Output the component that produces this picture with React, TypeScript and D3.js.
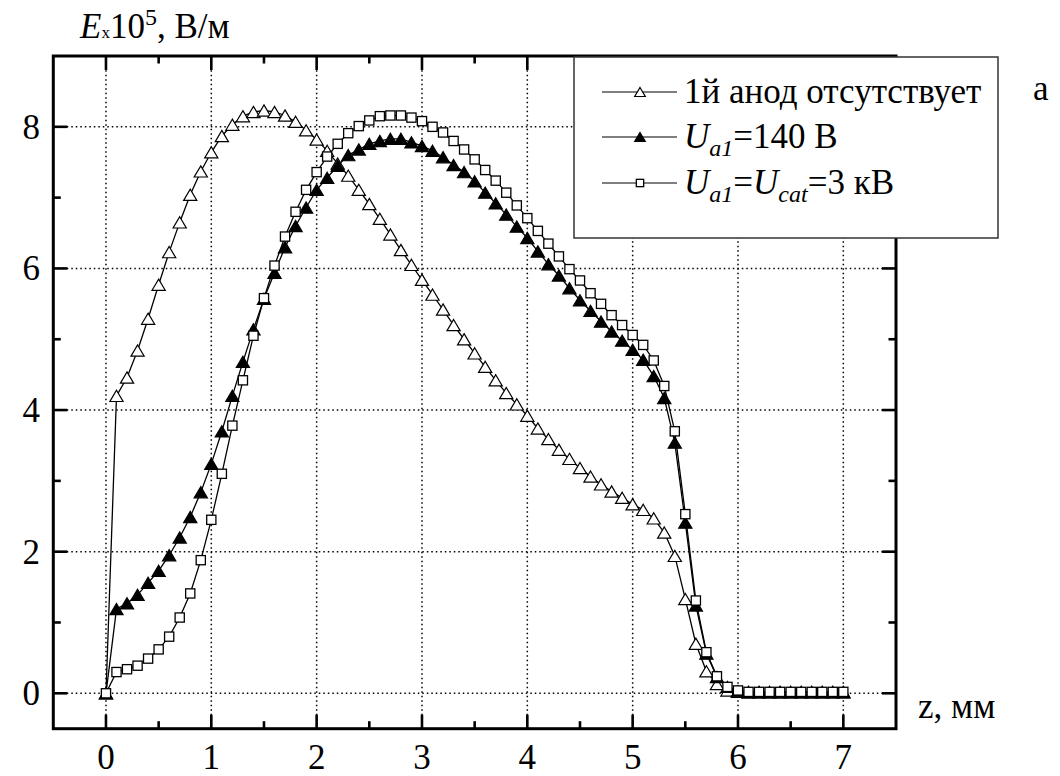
import React from 'react';
import * as d3 from 'd3';

// z, mm
const Z = [
  0, 0.1, 0.2, 0.3, 0.4, 0.5, 0.6, 0.7, 0.8, 0.9,
  1.0, 1.1, 1.2, 1.3, 1.4, 1.5, 1.6, 1.7, 1.8, 1.9,
  2.0, 2.1, 2.2, 2.3, 2.4, 2.5, 2.6, 2.7, 2.8, 2.9,
  3.0, 3.1, 3.2, 3.3, 3.4, 3.5, 3.6, 3.7, 3.8, 3.9,
  4.0, 4.1, 4.2, 4.3, 4.4, 4.5, 4.6, 4.7, 4.8, 4.9,
  5.0, 5.1, 5.2, 5.3, 5.4, 5.5, 5.6, 5.7, 5.8, 5.9,
  6.0, 6.1, 6.2, 6.3, 6.4, 6.5, 6.6, 6.7, 6.8, 6.9,
  7.0,
];

// 1й анод отсутствует (open triangles)
const E_NO_ANODE = [
  0, 4.20, 4.46, 4.84, 5.29, 5.77, 6.23, 6.65, 7.04, 7.37,
  7.64, 7.87, 8.03, 8.15, 8.21, 8.23, 8.21, 8.16, 8.07, 7.95,
  7.82, 7.66, 7.48, 7.31, 7.11, 6.91, 6.70, 6.48, 6.26, 6.05,
  5.84, 5.63, 5.42, 5.20, 5.00, 4.80, 4.61, 4.42, 4.24, 4.08,
  3.92, 3.74, 3.59, 3.44, 3.31, 3.18, 3.06, 2.95, 2.85, 2.76,
  2.67, 2.59, 2.47, 2.27, 1.94, 1.33, 0.70, 0.31, 0.13, 0.04,
  0.02, 0.01, 0.01, 0.01, 0.01, 0.01, 0.01, 0.01, 0.01, 0.01,
  0.01,
];

// U_a1 = 140 B (filled triangles)
const E_140V = [
  0, 1.19, 1.27, 1.39, 1.56, 1.73, 1.95, 2.20, 2.49, 2.84,
  3.24, 3.70, 4.20, 4.68, 5.14, 5.57, 5.94, 6.30, 6.60, 6.86,
  7.11, 7.28, 7.45, 7.60, 7.68, 7.76, 7.80, 7.83, 7.83, 7.78,
  7.73, 7.66, 7.57, 7.46, 7.36, 7.23, 7.07, 6.92, 6.76, 6.59,
  6.43, 6.24, 6.06, 5.90, 5.72, 5.55, 5.40, 5.25, 5.11, 4.98,
  4.85, 4.71, 4.48, 4.17, 3.54, 2.41, 1.24, 0.56, 0.23, 0.09,
  0.03, 0.02, 0.02, 0.02, 0.02, 0.02, 0.02, 0.02, 0.02, 0.02,
  0.02,
];

// U_a1 = U_cat = 3 kB (open squares)
const E_3KV = [
  0, 0.30, 0.34, 0.39, 0.49, 0.62, 0.80, 1.07, 1.41, 1.88,
  2.45, 3.10, 3.78, 4.42, 5.05, 5.58, 6.04, 6.45, 6.80, 7.11,
  7.36, 7.58, 7.76, 7.91, 8.01, 8.09, 8.15, 8.16, 8.16, 8.13,
  8.08, 8.00, 7.92, 7.80, 7.68, 7.54, 7.39, 7.24, 7.07, 6.89,
  6.71, 6.53, 6.35, 6.17, 5.99, 5.83, 5.65, 5.50, 5.34, 5.20,
  5.06, 4.92, 4.70, 4.34, 3.70, 2.53, 1.31, 0.58, 0.24, 0.09,
  0.04, 0.02, 0.02, 0.02, 0.02, 0.02, 0.02, 0.02, 0.02, 0.02,
  0.02,
];

const X_TICKS = [0, 1, 2, 3, 4, 5, 6, 7];
const X_MINOR = [0.5, 1.5, 2.5, 3.5, 4.5, 5.5, 6.5];
const Y_TICKS = [0, 2, 4, 6, 8];
const Y_MINOR = [1, 3, 5, 7];

type Marker = 'openTri' | 'fillTri' | 'openSq';

const SERIES: { values: number[]; marker: Marker }[] = [
  { values: E_NO_ANODE, marker: 'openTri' },
  { values: E_140V, marker: 'fillTri' },
  { values: E_3KV, marker: 'openSq' },
];

const FONT_STYLE = { fontFamily: '"Liberation Serif", "Times New Roman", serif' };

function markerEl(kind: Marker, cx: number, cy: number, key: string | number, s = 1) {
  if (kind === 'openSq') {
    const h = 4.6 * s;
    return (
      <rect key={key} x={cx - h} y={cy - h} width={2 * h} height={2 * h}
        fill="#fff" stroke="#000" strokeWidth={1.3} />
    );
  }
  const w = 6.6 * s;
  const hh = 5.6 * s;
  const d = `M${cx},${cy - hh}L${cx + w},${cy + hh}L${cx - w},${cy + hh}Z`;
  return (
    <path key={key} d={d} fill={kind === 'fillTri' ? '#000' : '#fff'}
      stroke="#000" strokeWidth={1.2} strokeLinejoin="miter" />
  );
}

export default function App() {
  const W = 1060;
  const H = 776;
  const x = d3.scaleLinear().domain([-0.5, 7.5]).range([53.3, 896]);
  const y = d3.scaleLinear().domain([-0.5, 9]).range([728.7, 56]);
  const [x0, x1] = x.range();
  const [y0, y1] = y.range();

  const line = d3.line<number>()
    .x((_, i) => x(Z[i]))
    .y((v) => y(v));

  const majorLen = 14;
  const minorLen = 7.5;

  const legendRows = [92, 137, 183];

  return (
    <svg width={W} height={H} viewBox={`0 0 ${W} ${H}`}
      style={{ position: 'absolute', left: 0, top: 0, background: '#fff' }}>
      <rect x={0} y={0} width={W} height={H} fill="#fff" />

      {/* grid */}
      <g stroke="#000" strokeWidth={1.5} strokeDasharray="1.5 3">
        {X_TICKS.map((t) => (
          <line key={'gx' + t} x1={x(t)} x2={x(t)} y1={y0} y2={y1} />
        ))}
        {Y_TICKS.map((t) => (
          <line key={'gy' + t} x1={x0} x2={x1} y1={y(t)} y2={y(t)} />
        ))}
      </g>

      {/* series */}
      {SERIES.map((s, si) => (
        <g key={'s' + si}>
          <path d={line(s.values) || ''} fill="none" stroke="#000" strokeWidth={1.3} />
          {s.values.map((v, i) => markerEl(s.marker, x(Z[i]), y(v), i))}
        </g>
      ))}

      {/* ticks */}
      <g stroke="#000" strokeWidth={2.6}>
        {X_TICKS.map((t) => (
          <g key={'tx' + t}>
            <line x1={x(t)} x2={x(t)} y1={y0} y2={y0 - majorLen} />
            <line x1={x(t)} x2={x(t)} y1={y1} y2={y1 + majorLen} />
          </g>
        ))}
        {X_MINOR.map((t) => (
          <g key={'mx' + t}>
            <line x1={x(t)} x2={x(t)} y1={y0} y2={y0 - minorLen} />
            <line x1={x(t)} x2={x(t)} y1={y1} y2={y1 + minorLen} />
          </g>
        ))}
        {Y_TICKS.map((t) => (
          <g key={'ty' + t}>
            <line x1={x0} x2={x0 + majorLen} y1={y(t)} y2={y(t)} />
            <line x1={x1} x2={x1 - majorLen} y1={y(t)} y2={y(t)} />
          </g>
        ))}
        {Y_MINOR.map((t) => (
          <g key={'my' + t}>
            <line x1={x0} x2={x0 + minorLen} y1={y(t)} y2={y(t)} />
            <line x1={x1} x2={x1 - minorLen} y1={y(t)} y2={y(t)} />
          </g>
        ))}
      </g>

      {/* frame */}
      <rect x={x0} y={y1} width={x1 - x0} height={y0 - y1} fill="none" stroke="#000" strokeWidth={3} />

      {/* tick labels */}
      <g fontSize={35} fill="#000" style={FONT_STYLE}>
        {X_TICKS.map((t) => (
          <text key={'lx' + t} x={x(t)} y={769} textAnchor="middle">{t}</text>
        ))}
        {Y_TICKS.map((t) => (
          <text key={'ly' + t} x={40} y={y(t) + 12} textAnchor="end">{t}</text>
        ))}
      </g>

      {/* axis titles */}
      <text x={918} y={718} fontSize={35} fill="#000" style={FONT_STYLE}>z, мм</text>
      <text x={80} y={38} fontSize={35} fill="#000" style={FONT_STYLE}>
        <tspan fontStyle="italic">E</tspan>
        <tspan fontSize={17}>x</tspan>
        <tspan>10</tspan>
        <tspan fontSize={24} dy={-13}>5</tspan>
        <tspan dy={13}>, В/м</tspan>
      </text>

      {/* legend */}
      <rect x={574} y={57} width={424} height={181} fill="#fff" stroke="#333" strokeWidth={1.5} />
      {legendRows.map((ry, i) => (
        <g key={'lg' + i}>
          <line x1={602} x2={677} y1={ry} y2={ry} stroke="#000" strokeWidth={1.2} />
          {markerEl(SERIES[i].marker, 640, ry, 'lm' + i, 0.8)}
        </g>
      ))}
      <g fontSize={35} fill="#000" style={FONT_STYLE}>
        <text x={684} y={legendRows[0] + 11}>1й анод отсутствует</text>
        <text x={684} y={legendRows[1] + 11}>
          <tspan fontStyle="italic">U</tspan>
          <tspan fontStyle="italic" fontSize={24} dy={8}>a1</tspan>
          <tspan dy={-8}>=140 В</tspan>
        </text>
        <text x={684} y={legendRows[2] + 11}>
          <tspan fontStyle="italic">U</tspan>
          <tspan fontStyle="italic" fontSize={24} dy={8}>a1</tspan>
          <tspan dy={-8}>=</tspan>
          <tspan fontStyle="italic">U</tspan>
          <tspan fontStyle="italic" fontSize={24} dy={8}>cat</tspan>
          <tspan dy={-8}>=3 кВ</tspan>
        </text>
      </g>
      <text x={1033} y={100} fontSize={35} fill="#000" style={FONT_STYLE}>а</text>
    </svg>
  );
}
